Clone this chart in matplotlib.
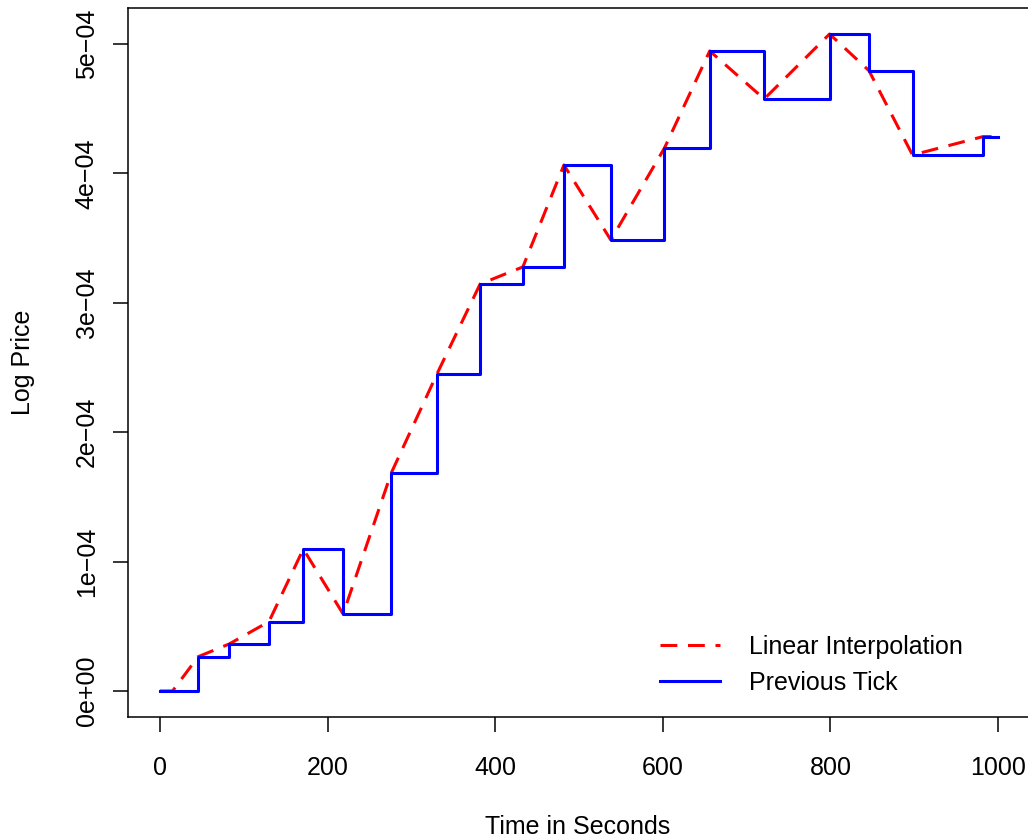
import matplotlib.pyplot as plt

plt.rcParams['font.family'] = ['Liberation Sans', 'DejaVu Sans']

# tick times (seconds) and log prices (units of 1e-4)
tick_times = [0, 15, 45.5, 82.5, 130, 171, 218.5, 276, 330.5, 382, 433, 482,
              538, 602, 656, 721, 799, 846, 898, 982]
tick_prices = [0, 0, 0.265, 0.363, 0.536, 1.097, 0.595, 1.685, 2.45, 3.145,
               3.277, 4.065, 3.485, 4.196, 4.946, 4.575, 5.077, 4.794, 4.142, 4.284]
end_time = 1000

x_ticks = [0, 200, 400, 600, 800, 1000]
y_ticks = [0, 1, 2, 3, 4, 5]
y_tick_labels = ["0e+00", "1e\u221204", "2e\u221204", "3e\u221204", "4e\u221204", "5e\u221204"]

times = tick_times + [end_time]
prices = [p * 1e-4 for p in tick_prices]
prices = prices + [prices[-1]]

fig = plt.figure(figsize=(10.28, 8.38), dpi=100)
ax = fig.add_axes([128 / 1028, 121 / 838, 900 / 1028, 709 / 838])

ax.plot(times, prices, color='red', lw=2.2, dashes=(5.5, 3.5), label='Linear Interpolation')
ax.step(times, prices, where='post', color='blue', lw=2.2, label='Previous Tick')

ax.set_xlim(-38.2, 1035.8)
ax.set_ylim(-0.201e-4, 5.278e-4)

ax.set_xticks(x_ticks)
ax.set_xticklabels([str(t) for t in x_ticks])
ax.set_yticks([v * 1e-4 for v in y_ticks])
ax.set_yticklabels(y_tick_labels, rotation=90, va='center')

for s in ax.spines.values():
    s.set_linewidth(1.1)
ax.spines['right'].set_visible(False)

ax.tick_params(axis='both', labelsize=18, length=11, width=1.1, direction='out')
ax.tick_params(axis='x', pad=17)
ax.tick_params(axis='y', pad=10)

ax.set_xlabel('Time in Seconds', fontsize=18, labelpad=25)
ax.set_ylabel('Log Price', fontsize=18, labelpad=29)

ax.legend(loc='center left', bbox_to_anchor=((660 - 128) / 900, (717 - 664.5) / 709),
          frameon=False, fontsize=18, handlelength=2.4, handletextpad=1.15,
          labelspacing=0.48, borderpad=0, borderaxespad=0)

fig.savefig('out.png', dpi=100)
